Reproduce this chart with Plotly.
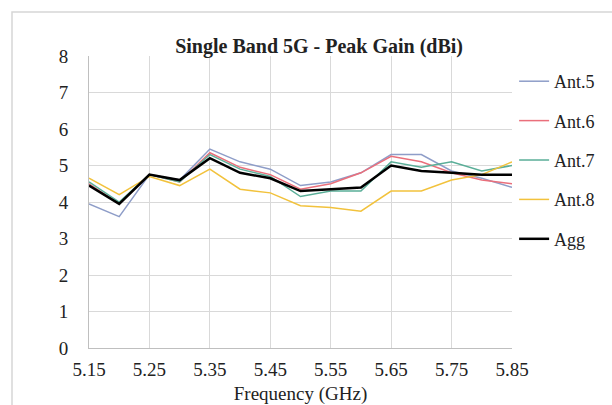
import plotly.graph_objects as go

freq = [5.15, 5.20, 5.25, 5.30, 5.35, 5.40, 5.45, 5.50, 5.55, 5.60, 5.65, 5.70, 5.75, 5.80, 5.85]
ant5 = [3.95, 3.6, 4.75, 4.6, 5.45, 5.1, 4.9, 4.45, 4.55, 4.8, 5.3, 5.3, 4.85, 4.65, 4.4]
ant6 = [4.5, 3.95, 4.75, 4.55, 5.35, 4.95, 4.75, 4.35, 4.5, 4.8, 5.25, 5.1, 4.8, 4.6, 4.5]
ant7 = [4.55, 4.0, 4.75, 4.55, 5.3, 4.9, 4.7, 4.15, 4.3, 4.3, 5.1, 4.95, 5.1, 4.85, 5.0]
ant8 = [4.65, 4.2, 4.7, 4.45, 4.9, 4.35, 4.25, 3.9, 3.85, 3.75, 4.3, 4.3, 4.6, 4.75, 5.1]
agg = [4.45, 3.95, 4.75, 4.6, 5.2, 4.8, 4.65, 4.3, 4.35, 4.4, 5.0, 4.85, 4.8, 4.75, 4.75]

names = ["Ant.5", "Ant.6", "Ant.7", "Ant.8", "Agg"]
series = [ant5, ant6, ant7, ant8, agg]
colors = ["#8e9dc8", "#ea6f7b", "#5aae98", "#f2c23c", "#000000"]
widths = [1.5, 1.5, 1.5, 1.5, 2.5]

x_ticks = [5.15, 5.25, 5.35, 5.45, 5.55, 5.65, 5.75, 5.85]
x_tick_labels = ["5.15", "5.25", "5.35", "5.45", "5.55", "5.65", "5.75", "5.85"]

FONT = "Liberation Serif"

fig = go.Figure()
for n, s, c, w in zip(names, series, colors, widths):
    fig.add_trace(go.Scatter(x=freq, y=s, name=n, mode="lines", legendgroup=n,
                             line=dict(color=c, width=w)))

fig.update_layout(
    width=612, height=405,
    margin=dict(l=89, r=100, t=56, b=57, autoexpand=False),
    paper_bgcolor="white", plot_bgcolor="white",
    font=dict(family=FONT, size=19, color="#222222"),
    title=dict(text="<b>Single Band 5G - Peak Gain (dBi)</b>",
               font=dict(family=FONT, size=20, color="#222222"),
               x=0.544, xanchor="center", xref="paper",
               y=1 - 46 / 405, yanchor="middle", yref="container"),
    legend=dict(x=1.005, xanchor="left", y=0.976, yanchor="top",
                font=dict(family=FONT, size=18, color="#222222"),
                tracegroupgap=13, bgcolor="rgba(0,0,0,0)"),
    showlegend=True,
)

fig.update_xaxes(range=[5.15, 5.85], tickmode="array", tickvals=x_ticks,
                 ticktext=x_tick_labels, showgrid=True, gridcolor="#d9d9d9",
                 gridwidth=1, showline=True, linecolor="#bfbfbf", linewidth=1,
                 zeroline=False, ticks="", ticklabelstandoff=4, automargin=False,
                 title=dict(text="Frequency (GHz)", standoff=8,
                            font=dict(family=FONT, size=19)))
fig.update_yaxes(range=[0, 8], dtick=1, showgrid=True, gridcolor="#d9d9d9",
                 gridwidth=1, showline=True, linecolor="#bfbfbf", linewidth=1,
                 zeroline=False, ticks="", ticklabelstandoff=16, automargin=False)

# outer chart frame
fig.add_shape(type="rect", xref="paper", yref="paper",
              x0=(12 - 89) / 423, x1=(640 - 89) / 423,
              y0=(348 - 430) / 292, y1=(348 - 12) / 292,
              line=dict(color="#d6d6d6", width=1.5), layer="below")

fig.write_html("out.html")
